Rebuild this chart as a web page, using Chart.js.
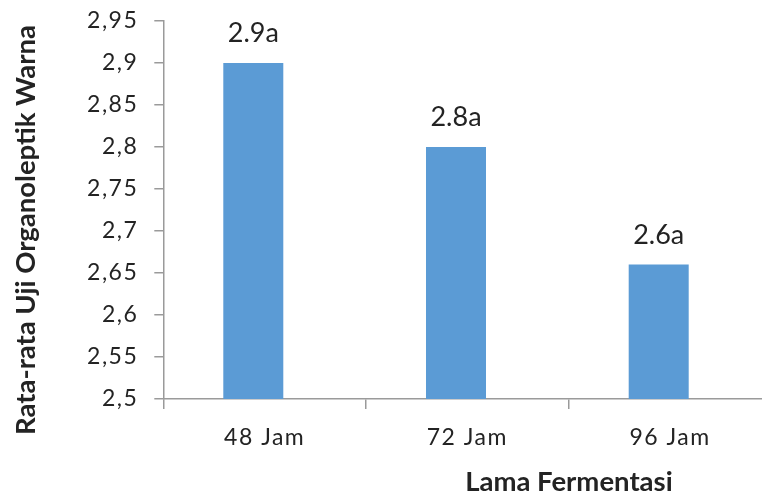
<!DOCTYPE html>
<html>
<head>
<meta charset="utf-8">
<script src="https://cdn.jsdelivr.net/npm/chart.js@4"></script>
<style>
  html, body { margin: 0; padding: 0; background: #fff; overflow: hidden; }
  #wrap { width: 775px; height: 495px; }
</style>
</head>
<body>
<div id="wrap"><canvas id="chart" width="775" height="495"></canvas></div>
<script>
// Mean colour score per fermentation time
const categories = ['48 Jam', '72 Jam', '96 Jam'];
const meanScores = [2.9, 2.8, 2.66];
const notation = ['a', 'a', 'a'];

// Value axis range
const yMin = 2.5;
const yMax = 2.95;
const yStep = 0.05;

const xTitle = 'Lama Fermentasi';
const yTitle = 'Rata-rata Uji Organoleptik Warna';

const TEXT = '#232323';
const AXIS = '#9a9a9a';
const BAR = '#5B9BD5';

// Label above each bar: value cut to one decimal plus the significance letter
function barLabel(v, i) {
  return (Math.floor(v * 10 + 1e-6) / 10).toFixed(1) + notation[i];
}

// Slightly wider letter spacing for the axis tick labels only
const tickSpacing = {
  id: 'tickSpacing',
  beforeDraw(chart) { chart.ctx.letterSpacing = '1.5px'; },
  beforeDatasetsDraw(chart) { chart.ctx.letterSpacing = '0px'; }
};

const valueLabels = {
  id: 'valueLabels',
  afterDatasetsDraw(chart) {
    const ctx = chart.ctx;
    const meta = chart.getDatasetMeta(0);
    ctx.save();
    ctx.font = '27px Lato';
    ctx.fillStyle = TEXT;
    ctx.textAlign = 'center';
    ctx.textBaseline = 'alphabetic';
    meta.data.forEach((bar, i) => {
      ctx.fillText(barLabel(meanScores[i], i), bar.x, bar.y - 21);
    });
    ctx.restore();
  }
};

const axisTitles = {
  id: 'axisTitles',
  afterDraw(chart) {
    const { ctx, chartArea: a } = chart;
    ctx.save();
    ctx.letterSpacing = '0px';
    ctx.fillStyle = TEXT;
    ctx.textAlign = 'center';
    ctx.textBaseline = 'alphabetic';
    ctx.font = 'bold 27.5px Lato';
    ctx.fillText(xTitle, a.left + (a.right - a.left) * 0.667, a.bottom + 91.5);
    ctx.font = 'bold 27.5px Lato';
    ctx.translate(a.left - 128, a.top + (a.bottom - a.top) * 0.553);
    ctx.rotate(-Math.PI / 2);
    ctx.fillText(yTitle, 0, 0);
    ctx.restore();
  }
};

new Chart(document.getElementById('chart'), {
  type: 'bar',
  data: {
    labels: categories,
    datasets: [
      {
        label: 'Warna',
        data: meanScores,
        backgroundColor: BAR,
        borderWidth: 0,
        categoryPercentage: 0.224,
        barPercentage: 2.643
      },
      {
        label: '',
        data: [],
        backgroundColor: BAR,
        categoryPercentage: 0.224,
        barPercentage: 2.643
      }
    ]
  },
  options: {
    responsive: false,
    animation: false,
    devicePixelRatio: 1,
    layout: { padding: { top: 21, right: 3.6, left: 0, bottom: 0 } },
    plugins: {
      legend: { display: false },
      tooltip: { enabled: false }
    },
    scales: {
      x: {
        grid: { offset: true, drawOnChartArea: false, drawTicks: true, tickLength: 10, color: AXIS, lineWidth: 1.5 },
        border: { color: AXIS, width: 1.5 },
        ticks: { color: TEXT, font: { family: 'Lato', size: 23 }, padding: 15, maxRotation: 0 },
        afterFit(scale) { scale.height = 96; }
      },
      y: {
        min: yMin,
        max: yMax,
        grid: { drawOnChartArea: false, drawTicks: true, tickLength: 9, color: AXIS, lineWidth: 1.5 },
        border: { color: AXIS, width: 1.5 },
        ticks: {
          stepSize: yStep,
          color: TEXT,
          font: { family: 'Lato', size: 23 },
          padding: 16,
          callback: (v) => String(Number(v.toFixed(2))).replace('.', ',')
        },
        afterFit(scale) {
          scale.width = 163.3;
          scale.paddingTop = 10;
          scale.paddingBottom = 10;
        }
      }
    }
  },
  plugins: [tickSpacing, valueLabels, axisTitles]
});
</script>
</body>
</html>
